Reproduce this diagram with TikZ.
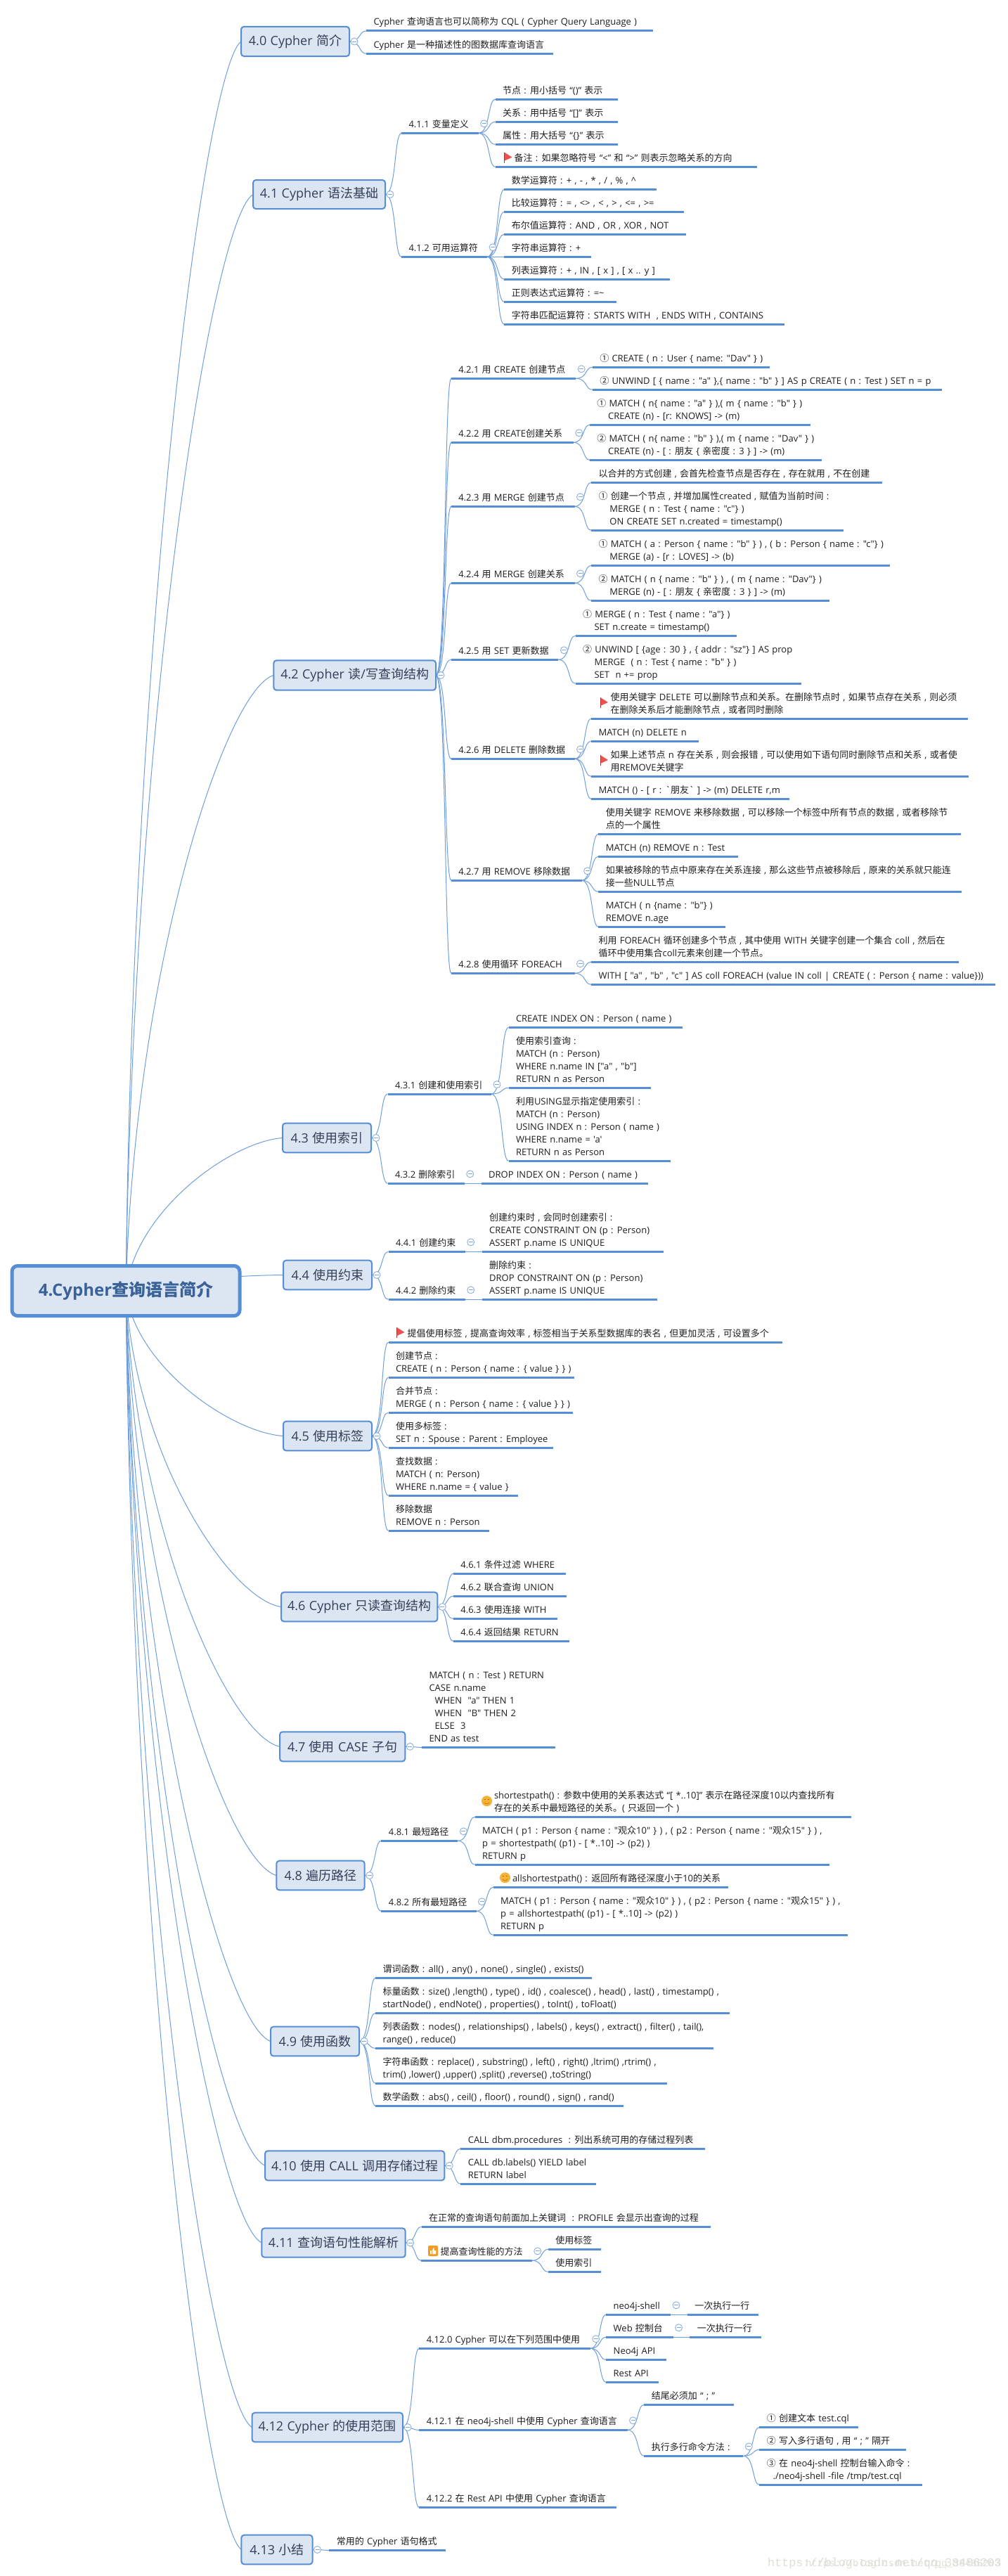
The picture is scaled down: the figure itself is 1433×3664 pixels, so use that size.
\documentclass[tikz,border=0pt]{standalone}
\usepackage{fontspec}
\usetikzlibrary{calc,backgrounds}
\newfontfamily\zh{Noto Sans CJK SC}
\newfontfamily\lat{Open Sans}
\newfontfamily\wm{Liberation Mono}
% CJK characters use the CJK family, everything else the Latin family
\newcount\cjkc
\newcommand\cjkrange[2]{\cjkc=#1\relax\loop\XeTeXcharclass\cjkc=10\relax\advance\cjkc by 1\relax\ifnum\cjkc<#2\repeat}
\cjkrange{"2460}{"2500}
\cjkrange{"3000}{"3040}
\cjkrange{"4E00}{"A000}
\cjkrange{"FF00}{"FFF0}
\XeTeXinterchartoks 0 10 = {\zh}
\XeTeXinterchartoks 10 0 = {\lat}
\XeTeXinterchartoks 4095 10 = {\zh}
\XeTeXinterchartoks 4095 0 = {\lat}
\newcommand\mixon{\XeTeXinterchartokenstate=1\relax}
\newcommand\wordgap[1]{\spaceskip=#1\relax}
\definecolor{bl}{HTML}{558ED5}
\definecolor{cnc}{HTML}{6E9EDB}
\definecolor{fc}{HTML}{DCE6F2}
\definecolor{tc}{HTML}{1E1E1E}
\definecolor{bt}{HTML}{333F58}
\definecolor{rt}{HTML}{3A6298}
\definecolor{fd}{HTML}{7FA8DC}
\definecolor{fl}{HTML}{EE4F4F}
\definecolor{og}{HTML}{F5B335}
\definecolor{og2}{HTML}{F59A23}
\definecolor{wmc}{HTML}{DEDED8}
\tikzset{
 ul/.style={draw=bl,line width=3pt},
 cnl/.style={draw=cnc,line width=1pt},
 txt/.style={font=\mixon\lat\fontsize{13}{18}\selectfont\wordgap{4.2pt},text=tc,inner sep=0pt,outer sep=0pt,align=left,anchor=south west,execute at end node=\strut},
 bxs/.style={draw=bl,line width=2pt,fill=fc,rounded corners=4pt,text=bt,font=\mixon\lat\fontsize{18}{22}\selectfont\wordgap{5.4pt},inner sep=0pt,outer sep=0pt},
 rts/.style={draw=bl,line width=5pt,fill=fc,rounded corners=8pt,text=rt,font=\mixon\lat\bfseries\fontsize{24}{28}\selectfont,inner sep=0pt,outer sep=0pt},
 fds/.style={circle,draw=fd,line width=.8pt,fill=white,minimum size=10pt,inner sep=0pt,outer sep=0pt},
 fdl/.style={draw=fd,line width=.8pt},
 wms/.style={text=wmc,inner sep=0pt,outer sep=0pt,anchor=base west}
}
% link between two named points
\newcommand\cn[2]{\begin{scope}[on background layer]\draw[cnl] let \p1=(#1),\p2=(#2) in (\p1) .. controls ({\x1+.7*(\x2-\x1)},\y1) and ({\x1+.55*(\x2-\x1)},\y2) .. (\p2);\end{scope}}
% link from the root to a branch box
\newcommand\rl[1]{\begin{scope}[on background layer]\draw[cnl] let \p1=(root.center),\p2=(#1.west) in (\p1) .. controls ({\x1+.06*(\x2-\x1)},{\y1+.527*(\y2-\y1)}) and ({\x1+.675*(\x2-\x1)},{\y1+.977*(\y2-\y1)}) .. (\p2);\end{scope}}
% branch box: name x1 x2 y1 y2 text
\newcommand\bx[6]{\node[bxs,minimum width={(#3-#2)*1pt},minimum height={(#5-#4)*1pt}] (#1) at ({(#2+#3)/2},{(#4+#5)/2}) {#6};
 \coordinate (#1-r) at (#1.east);\rl{#1}}
% topic with underline: [text offset] name x1 x2 y text
\newcommand\tp[6][10.5]{\coordinate (#2-l) at (#3,#5);\coordinate (#2-r) at (#4,#5);
 \draw[ul] (#2-l) -- (#2-r);
 \node[txt] (#2) at ({#3+#1},{#5-2.6}) {#6};}
% child topic of a parent
\newcommand\ch[7][10.5]{\tp[#1]{#3}{#4}{#5}{#6}{#7}\cn{#2-r}{#3-l}}
% fold markers
\newcommand\fdb[1]{\node[fds] (#1-f) at ($(#1.east)+(7,0)$) {};\draw[fdl] ([xshift=2pt]#1-f.west) -- ([xshift=-2pt]#1-f.east);}
\newcommand\fdt[1]{\node[fds] (#1-f) at ($(#1-r)+(8,-13.5)$) {};\draw[fdl] ([xshift=2pt]#1-f.west) -- ([xshift=-2pt]#1-f.east);}
% icons
\newcommand\flagi[2]{\fill[fl] (#1,#2) -- (#1+11,#2+7) -- (#1,#2+12) -- cycle;\draw[fl!70!black,line width=.8pt] (#1,#2) -- (#1,#2+15);}
\newcommand\smilei[2]{\fill[og] (#1,#2) circle[radius=7.5];\draw[og2!70!black,line width=.6pt] (#1-3.5,#2-2) -- (#1-1.5,#2-2) (#1+1.5,#2-2) -- (#1+3.5,#2-2);\draw[og2!70!black,line width=.6pt] (#1-3.5,#2+2) .. controls (#1-1.5,#2+5) and (#1+1.5,#2+5) .. (#1+3.5,#2+2);}
\newcommand\thumbi[2]{\fill[og2,rounded corners=2pt] (#1,#2) rectangle (#1+14,#2+15);\fill[white] (#1+3,#2+7) rectangle (#1+5,#2+12) (#1+6,#2+7) -- (#1+8,#2+2.5) -- (#1+9,#2+7) -- (#1+11.5,#2+7) -- (#1+11,#2+12) -- (#1+6,#2+12) -- cycle;}
\begin{document}
\begin{tikzpicture}[x=1pt,y=-1pt]
\useasboundingbox (0,0) rectangle (1433,3664);
\begin{scope}[on background layer]\fill[white] (0,0) rectangle (1433,3664);\end{scope}
\node[rts,minimum width=324pt,minimum height=71pt] (root) at (179,1836) {4.Cypher查询语言简介};
% 4.0
\bx{b40}{343}{497}{38}{80}{4.0 Cypher 简介}
\ch{b40}{a1}{521}{928.5}{44}{Cypher 查询语言也可以简称为 CQL ( Cypher Query Language )}
\ch{b40}{a2}{521}{787}{76.3}{Cypher 是一种描述性的图数据库查询语言}
\fdb{b40}
% 4.1
\bx{b41}{360}{548}{256}{297}{4.1 Cypher 语法基础}
\ch{b41}{t411}{571}{680.6}{189.3}{4.1.1 变量定义}
\ch{t411}{c1}{704.7}{878.6}{141.3}{节点 : 用小括号 “()” 表示}
\ch{t411}{c2}{704.7}{878.6}{173.3}{关系 : 用中括号 “[]” 表示}
\ch{t411}{c3}{704.7}{878.6}{205.3}{属性 : 用大括号 “\{\}” 表示}
\ch[27]{t411}{c4}{704.7}{1076.6}{237.3}{备注 : 如果忽略符号 “<” 和 “>” 则表示忽略关系的方向}
\flagi{717.5}{216.7}
\fdt{t411}
\ch{b41}{t412}{571}{693}{365.3}{4.1.2 可用运算符}
\ch{t412}{d1}{717.3}{933.7}{269.3}{数学运算符 : + , - , * , / , \% , \string^}
\ch{t412}{d2}{717.3}{973.3}{301.3}{比较运算符 : = , <> , < , > , <= , >=}
\ch{t412}{d3}{717.3}{976.2}{333.3}{布尔值运算符 : AND , OR , XOR , NOT}
\ch{t412}{d4}{717.3}{841.3}{365.3}{字符串运算符 : +}
\ch{t412}{d5}{717.3}{953.2}{397.3}{列表运算符 : + , IN , [ x ] , [ x .. y ]}
\ch{t412}{d6}{717.3}{877.4}{429.3}{正则表达式运算符 : =\string~}
\ch{t412}{d7}{717.3}{1116.2}{461.3}{字符串匹配运算符 : STARTS WITH~ , ENDS WITH , CONTAINS}
\fdt{t412}
\fdb{b41}
% 4.2
\bx{b42}{389.3}{620}{939.3}{981.7}{4.2 Cypher 读/写查询结构}
\ch{b42}{t421}{641.8}{819.2}{538.3}{4.2.1 用 CREATE 创建节点}
\ch{t421}{e1}{842.8}{1095}{522.3}{① CREATE ( n : User \{ name: "Dav" \} )}
\ch{t421}{e2}{842.8}{1339.5}{554.3}{② UNWIND [ \{ name : "a" \},\{ name : "b" \} ] AS p CREATE ( n : Test ) SET n = p}
\fdt{t421}
\ch{b42}{t422}{641.8}{815.8}{629.3}{4.2.2 用 CREATE创建关系}
\ch{t422}{e3}{838.9}{1152.5}{604.3}{① MATCH ( n\{ name : "a" \} ),( m \{ name : "b" \} )\\\hspace*{15.8pt}CREATE (n) - [r: KNOWS] -> (m)}
\ch{t422}{e4}{838.9}{1169.4}{654.3}{② MATCH ( n\{ name : "b" \} ),( m \{ name : "Dav" \} )\\\hspace*{15.8pt}CREATE (n) - [ : 朋友 \{ 亲密度 : 3 \} ] -> (m)}
\fdt{t422}
\ch{b42}{t423}{641.8}{817.5}{720.3}{4.2.3 用 MERGE 创建节点}
\ch{t423}{e5}{841.1}{1254.5}{686.3}{以合并的方式创建 , 会首先检查节点是否存在 , 存在就用 , 不在创建}
\ch{t423}{e6}{841.1}{1200.4}{754.3}{① 创建一个节点 , 并增加属性created , 赋值为当前时间 :\\\hspace*{15.8pt}MERGE ( n : Test \{ name : "c"\} )\\\hspace*{15.8pt}ON CREATE SET n.created = timestamp()}
\fdt{t423}
\ch{b42}{t424}{641.8}{817.5}{829.3}{4.2.4 用 MERGE 创建关系}
\ch{t424}{e7}{841.1}{1266.3}{804.3}{① MATCH ( a : Person \{ name : "b" \} ) , ( b : Person \{ name : "c"\} )\\\hspace*{15.8pt}MERGE (a) - [r : LOVES] -> (b)}
\ch{t424}{e8}{841.1}{1179.5}{854.3}{② MATCH ( n \{ name : "b" \} ) , ( m \{ name : "Dav"\} )\\\hspace*{15.8pt}MERGE (n) - [ : 朋友 \{ 亲密度 : 3 \} ] -> (m)}
\fdt{t424}
\ch{b42}{t425}{641.8}{794.4}{938.3}{4.2.5 用 SET 更新数据}
\ch{t425}{e9}{818.6}{1048.3}{904.3}{① MERGE ( n : Test \{ name : "a"\} )\\\hspace*{16.5pt}SET n.create = timestamp()}
\ch{t425}{e10}{818.6}{1139.6}{972.3}{② UNWIND [ \{age : 30 \} , \{ addr : "sz"\} ] AS prop\\\hspace*{16.5pt}MERGE~ ( n : Test \{ name : "b" \} )\\\hspace*{16.5pt}SET~ n += prop}
\fdt{t425}
\ch{b42}{t426}{641.8}{817.5}{1079.3}{4.2.6 用 DELETE 删除数据}
\ch[27.6]{t426}{e11}{841.1}{1376.7}{1022.3}{使用关键字 DELETE 可以删除节点和关系。在删除节点时 , 如果节点存在关系 , 则必须\\在删除关系后才能删除节点 , 或者同时删除}
\flagi{854}{992}
\ch{t426}{e12}{841.1}{994.3}{1054.3}{MATCH (n) DELETE n}
\ch[27.6]{t426}{e13}{841.1}{1378.3}{1104.3}{如果上述节点 n 存在关系 , 则会报错 , 可以使用如下语句同时删除节点和关系 , 或者使\\用REMOVE关键字}
\flagi{854}{1074}
\ch{t426}{e14}{841.1}{1122.7}{1136.3}{MATCH () - [ r : `朋友` ] -> (m) DELETE r,m}
\fdt{t426}
\ch{b42}{t427}{641.8}{827.6}{1252.3}{4.2.7 用 REMOVE 移除数据}
\ch{t427}{e15}{851.3}{1366.5}{1186.3}{使用关键字 REMOVE 来移除数据 , 可以移除一个标签中所有节点的数据 , 或者移除节\\点的一个属性}
\ch{t427}{e16}{851.3}{1049.5}{1218.3}{MATCH (n) REMOVE n : Test}
\ch{t427}{e17}{851.3}{1368.2}{1268.3}{如果被移除的节点中原来存在关系连接 , 那么这些节点被移除后 , 原来的关系就只能连\\接一些NULL节点}
\ch{t427}{e18}{851.3}{1031.5}{1318.3}{MATCH ( n \{name : "b"\} )\\REMOVE n.age}
\fdt{t427}
\ch{b42}{t428}{641.8}{817.5}{1384.3}{4.2.8 使用循环 FOREACH}
\ch{t428}{e19}{841.1}{1364.2}{1368.3}{利用 FOREACH 循环创建多个节点 , 其中使用 WITH 关键字创建一个集合 coll , 然后在\\循环中使用集合coll元素来创建一个节点。}
\ch{t428}{e20}{841.1}{1415.5}{1400.3}{WITH [ "a" , "b" , "c" ] AS coll FOREACH (value IN coll | CREATE ( : Person \{ name : value\}))}
\fdt{t428}
\fdb{b42}
% 4.3
\bx{b43}{402}{528}{1597.7}{1639.3}{4.3 使用索引}
\ch{b43}{t431}{551.5}{699}{1556}{4.3.1 创建和使用索引}
\ch{t431}{f1}{723.5}{971}{1461.3}{CREATE INDEX ON : Person ( name )}
\ch{t431}{f2}{723.5}{925.5}{1547.3}{使用索引查询 :\\MATCH (n : Person)\\WHERE n.name IN ["a" , "b"]\\RETURN n as Person}
\ch{t431}{f3}{723.5}{953.6}{1651.3}{利用USING显示指定使用索引 :\\MATCH (n : Person)\\USING INDEX n : Person ( name )\\WHERE n.name = 'a'\\RETURN n as Person}
\fdt{t431}
\ch{b43}{t432}{551.5}{660.7}{1683.3}{4.3.2 删除索引}
\ch{t432}{f4}{684.7}{922.4}{1683.3}{DROP INDEX ON : Person ( name )}
\fdt{t432}
\fdb{b43}
% 4.4
\bx{b44}{403}{529}{1792.7}{1834.3}{4.4 使用约束}
\ch{b44}{t441}{552.5}{661.7}{1780.3}{4.4.1 创建约束}
\ch{t441}{g1}{685.7}{944.4}{1780.3}{创建约束时 , 会同时创建索引 :\\CREATE CONSTRAINT ON (p : Person)\\ASSERT p.name IS UNIQUE}
\fdt{t441}
\ch{b44}{t442}{552.5}{661.7}{1848.3}{4.4.2 删除约束}
\ch{t442}{g2}{685.7}{934.7}{1848.3}{删除约束 :\\DROP CONSTRAINT ON (p : Person)\\ASSERT p.name IS UNIQUE}
\fdt{t442}
\fdb{b44}
% 4.5
\bx{b45}{403}{529}{2021.7}{2063.3}{4.5 使用标签}
\ch[27]{b45}{h1}{552.5}{1112.7}{1909.3}{提倡使用标签 , 提高查询效率 , 标签相当于关系型数据库的表名 , 但更加灵活 , 可设置多个}
\flagi{564.5}{1888}
\ch{b45}{h2}{552.5}{817.3}{1959.3}{创建节点 :\\CREATE ( n : Person \{ name : \{ value \} \} )}
\ch{b45}{h3}{552.5}{815.3}{2009.3}{合并节点 :\\MERGE ( n : Person \{ name : \{ value \} \} )}
\ch{b45}{h4}{552.5}{787.2}{2059.3}{使用多标签 :\\SET n : Spouse : Parent : Employee}
\ch{b45}{h5}{552.5}{736.7}{2127.3}{查找数据 :\\MATCH ( n: Person)\\WHERE n.name = \{ value \}}
\ch{b45}{h6}{552.5}{696.4}{2177.3}{移除数据\\REMOVE n : Person}
\fdb{b45}
% 4.6
\bx{b46}{400}{622.4}{2264.7}{2306.3}{4.6 Cypher 只读查询结构}
\ch{b46}{i1}{644.9}{804.6}{2238.3}{4.6.1 条件过滤 WHERE}
\ch{b46}{i2}{644.9}{805.6}{2270.3}{4.6.2 联合查询 UNION}
\ch{b46}{i3}{644.9}{793.4}{2302.3}{4.6.3 使用连接 WITH}
\ch{b46}{i4}{644.9}{809.7}{2334.3}{4.6.4 返回结果 RETURN}
\fdb{b46}
% 4.7
\bx{b47}{398}{576.3}{2463.3}{2505.3}{4.7 使用 CASE 子句}
\ch{b47}{j1}{600}{789.6}{2485.3}{MATCH ( n : Test ) RETURN\\CASE n.name\\\hspace*{8pt}WHEN~ "a" THEN 1\\\hspace*{8pt}WHEN~ "B" THEN 2\\\hspace*{8pt}ELSE~ 3\\END as test}
\fdb{b47}
% 4.8
\bx{b48}{393.3}{518.7}{2646.7}{2688.3}{4.8 遍历路径}
\ch{b48}{t481}{542.4}{651.4}{2618.3}{4.8.1 最短路径}
\ch[27.3]{t481}{k1}{675.7}{1210.7}{2584.3}{shortestpath() : 参数中使用的关系表达式 “[ *..10]” 表示在路径深度10以内查找所有\\存在的关系中最短路径的关系。( 只返回一个 )}
\smilei{692.5}{2561.7}
\ch{t481}{k2}{675.7}{1180.4}{2652.3}{MATCH ( p1 : Person \{ name : "观众10" \} ) , ( p2 : Person \{ name : "观众15" \} ) ,\\p = shortestpath( (p1) - [ *..10] -> (p2) )\\RETURN p}
\fdt{t481}
\ch{b48}{t482}{542.4}{677.5}{2718.3}{4.8.2 所有最短路径}
\ch[27.3]{t482}{k3}{701.7}{1036.2}{2684.3}{allshortestpath() : 返回所有路径深度小于10的关系}
\smilei{718.5}{2670.7}
\ch{t482}{k4}{701.7}{1206.4}{2752.3}{MATCH ( p1 : Person \{ name : "观众10" \} ) , ( p2 : Person \{ name : "观众15" \} ) ,\\p = allshortestpath( (p1) - [ *..10] -> (p2) )\\RETURN p}
\fdt{t482}
\fdb{b48}
% 4.9
\bx{b49}{385}{511.2}{2882.7}{2924.3}{4.9 使用函数}
\ch{b49}{l1}{534.2}{842.4}{2813.3}{谓词函数 : all() , any() , none() , single() , exists()}
\ch{b49}{l2}{534.2}{1037.6}{2863.3}{标量函数 : size() ,length() , type() , id() , coalesce() , head() , last() , timestamp() ,\\startNode() , endNote() , properties() , toInt() , toFloat()}
\ch{b49}{l3}{534.2}{1015.2}{2913.3}{列表函数 : nodes() , relationships() , labels() , keys() , extract() , filter() , tail(),\\range() , reduce()}
\ch{b49}{l4}{534.2}{949.2}{2963.3}{字符串函数 : replace() , substring() , left() , right() ,ltrim() ,rtrim() ,\\trim() ,lower() ,upper() ,split() ,reverse() ,toString()}
\ch{b49}{l5}{534.2}{886.6}{2995.3}{数学函数 : abs() , ceil() , floor() , round() , sign() , rand()}
\fdb{b49}
% 4.10
\bx{b410}{377}{632.3}{3059.3}{3101.3}{4.10 使用 CALL 调用存储过程}
\ch{b410}{m1}{655.3}{1002.6}{3056.3}{CALL dbm.procedures~ : 列出系统可用的存储过程列表}
\ch{b410}{m2}{655.3}{848.2}{3106.3}{CALL db.labels() YIELD label\\RETURN label}
\fdb{b410}
% 4.11
\bx{b411}{372.3}{576.7}{3169.3}{3210.7}{4.11 查询语句性能解析}
\ch{b411}{n1}{599.6}{1011.2}{3167.3}{在正常的查询语句前面加上关键词~ : PROFILE 会显示出查询的过程}
\ch[27.4]{b411}{t4112}{599.2}{756.7}{3215.3}{提高查询性能的方法}
\thumbi{609}{3194}
\ch{t4112}{n2}{779.8}{855}{3199.3}{使用标签}
\ch{t4112}{n3}{779.8}{855}{3231.3}{使用索引}
\fdt{t4112}
\fdb{b411}
% 4.12
\bx{b412}{358.5}{573}{3431.7}{3473.3}{4.12 Cypher 的使用范围}
\ch{b412}{t4120}{596.3}{839.8}{3340.3}{4.12.0 Cypher 可以在下列范围中使用}
\ch{t4120}{p1}{862.2}{954}{3292.3}{neo4j-shell}
\ch{p1}{p1a}{977.8}{1079}{3292.3}{一次执行一行}
\fdt{p1}
\ch{t4120}{p2}{862.2}{957.6}{3324.3}{Web 控制台}
\ch{p2}{p2a}{981.4}{1082.6}{3324.3}{一次执行一行}
\fdt{p2}
\ch{t4120}{p3}{862.2}{948.2}{3356.3}{Neo4j API}
\ch{t4120}{p4}{862.2}{937.3}{3388.3}{Rest API}
\fdt{t4120}
\ch{b412}{t4121}{596.3}{892.5}{3456.3}{4.12.1 在 neo4j-shell 中使用 Cypher 查询语言}
\ch{t4121}{q1}{916.4}{1043.6}{3420.3}{结尾必须加 “ ; ”}
\ch{t4121}{q2}{916.4}{1057.3}{3493.3}{执行多行命令方法 :}
\ch{q2}{r1}{1080.4}{1221.3}{3452.3}{① 创建文本 test.cql}
\ch{q2}{r2}{1080.4}{1289.2}{3484.3}{② 写入多行语句 , 用 “ ; ” 隔开}
\ch{q2}{r3}{1080.4}{1312.4}{3534.3}{③ 在 neo4j-shell 控制台输入命令 :\\\hspace*{8.7pt}./neo4j-shell -file /tmp/test.cql}
\fdt{q2}
\fdt{t4121}
\ch{b412}{t4122}{596.3}{876.6}{3566.3}{4.12.2 在 Rest API 中使用 Cypher 查询语言}
\fdb{b412}
% 4.13
\bx{b413}{343.4}{444.5}{3605.7}{3647.3}{4.13 小结}
\ch{b413}{s1}{468.4}{633.8}{3627.3}{常用的 Cypher 语句格式}
\fdb{b413}
% watermark
\node[wms,font=\wm\fontsize{16.8}{20}\selectfont] (wm1) at (1092,3650) {https://blog.csdn.net/qq\_38486203};
\node[wms,font=\wm\fontsize{14}{18}\selectfont] (wm2) at (1146,3650) {https://blog.csdn.net/qq\_38486203};
\end{tikzpicture}
\end{document}
